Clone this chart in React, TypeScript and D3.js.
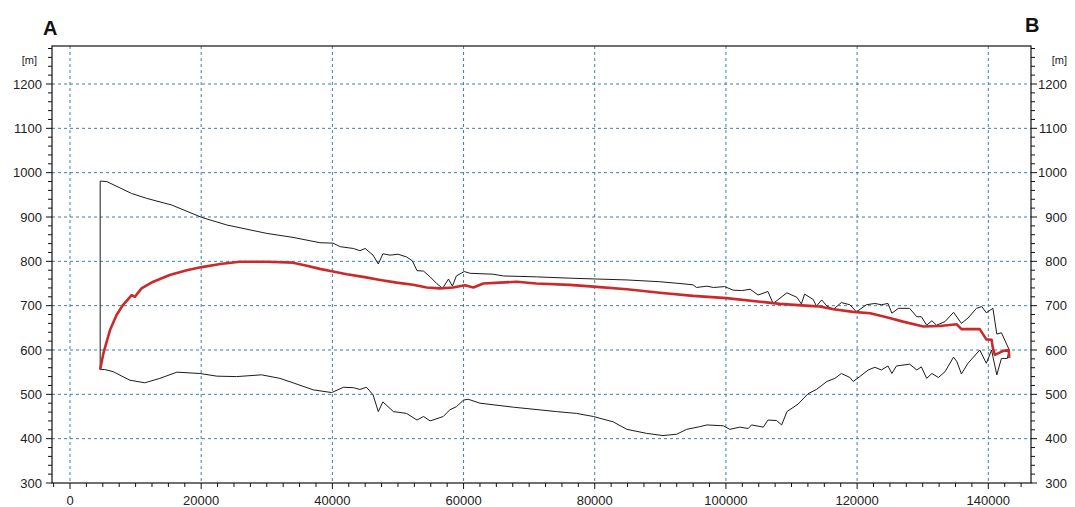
import React from "react";
import * as d3 from "d3";

const xTickValues = [0, 20000, 40000, 60000, 80000, 100000, 120000, 140000];
const yTickValues = [300, 400, 500, 600, 700, 800, 900, 1000, 1100, 1200];
const unitLabel = "[m]";
const startLabel = "A";
const endLabel = "B";

const upperProfile: [number, number][] = [
  [4600, 556], [4600, 981], [5600, 980], [9400, 953], [11700, 942], [15500, 927], [20100, 899],
  [23900, 882], [30000, 863], [34000, 854], [38100, 842], [40100, 841], [41200, 833], [43200, 829],
  [44200, 824], [45000, 829], [46200, 814], [47000, 794], [47700, 817], [48800, 814], [50000, 816],
  [51300, 810], [52200, 801], [52900, 779], [53900, 778], [54900, 765], [55900, 750], [56800, 739],
  [57700, 760], [58300, 744], [58900, 767], [60100, 777], [61000, 773], [64500, 771], [66100, 767],
  [71100, 765], [76200, 762], [84900, 758], [89900, 754], [93000, 750], [95000, 747], [95500, 741],
  [97100, 744], [98100, 741], [99800, 743], [101100, 735], [102400, 734], [103700, 737], [104900, 724],
  [106400, 732], [107200, 705], [109300, 729], [110800, 719], [111500, 704], [112000, 726], [113300, 714],
  [113800, 699], [114600, 713], [115400, 699], [116400, 692], [117600, 707], [118900, 702], [119900, 686],
  [121400, 702], [122700, 705], [123700, 702], [124700, 705], [125300, 683], [126300, 694], [128000, 694],
  [129100, 675], [129800, 675], [130600, 656], [131400, 666], [132100, 656], [133400, 664], [134700, 685],
  [135900, 660], [136900, 672], [138200, 694], [139000, 698], [139700, 684], [140700, 694], [141300, 636],
  [142000, 639], [143200, 600],
];

const lowerProfile: [number, number][] = [
  [4600, 556], [5300, 556], [6600, 551], [9100, 532], [11400, 526], [13700, 536], [16300, 550],
  [19800, 547], [22400, 541], [25400, 540], [29200, 544], [32000, 536], [34000, 526], [37100, 510],
  [39900, 504], [41700, 516], [43200, 515], [44200, 511], [45200, 516], [46200, 499], [47000, 461],
  [47700, 483], [49300, 461], [51300, 457], [52900, 442], [53900, 450], [54900, 440], [56900, 450],
  [57900, 465], [58900, 472], [60000, 487], [60700, 489], [62500, 480], [67600, 471], [74200, 461],
  [77200, 457], [79800, 450], [82800, 438], [84900, 421], [87900, 412], [90400, 407], [92500, 410],
  [94000, 421], [96000, 427], [97100, 431], [99600, 429], [100600, 421], [102100, 426], [103400, 423],
  [103900, 431], [105700, 426], [106400, 442], [107700, 441], [108500, 431], [109300, 461], [111000, 478],
  [112500, 501], [113800, 511], [115400, 529], [116600, 536], [117600, 547], [118900, 538], [119400, 529],
  [120400, 540], [121700, 555], [122700, 561], [123700, 555], [124700, 564], [125300, 547], [126000, 564],
  [128000, 568], [129100, 555], [129800, 562], [130600, 536], [131400, 547], [132400, 538], [133400, 551],
  [134700, 584], [135200, 574], [135900, 546], [136900, 570], [138700, 600], [139700, 570], [140500, 600],
  [140700, 585], [141300, 544], [142000, 581], [142900, 581], [143200, 600],
];

const lineProfile: [number, number][] = [
  [4600, 556], [5100, 593], [6100, 645], [7100, 679], [8100, 702], [9400, 724], [9900, 720],
  [10900, 739], [12700, 754], [15200, 769], [17800, 780], [20100, 787], [22900, 794], [25900, 799],
  [30000, 799], [34000, 797], [36100, 790], [38100, 783], [40100, 777], [42200, 771], [44700, 765],
  [47300, 758], [49800, 752], [52300, 747], [54400, 741], [56400, 739], [58400, 741], [60200, 746],
  [61500, 741], [63000, 750], [65500, 752], [68100, 754], [71100, 750], [76200, 747], [79800, 743],
  [84900, 737], [89900, 729], [95000, 722], [100100, 717], [105200, 709], [108200, 704], [113300, 699],
  [114300, 698], [116400, 692], [119400, 686], [122000, 683], [124500, 674], [127000, 664], [130100, 653],
  [132600, 654], [135200, 658], [135900, 647], [138700, 647], [139700, 624], [140500, 623], [140700, 604],
  [141000, 589], [142300, 598], [143100, 600], [143200, 582],
];

const W = 1075;
const H = 507;
const frame = { left: 52, top: 46, right: 1031, bottom: 483 };
const gridColor = "#3f7fa6";
const font = "Arial, 'Liberation Sans', sans-serif";

export default function App() {
  const x = d3.scaleLinear().domain([0, 140000]).range([70, 988.3]);
  const y = d3.scaleLinear().domain([300, 1200]).range([483, 84]);

  const line = d3
    .line<[number, number]>()
    .x((d) => x(d[0]))
    .y((d) => y(d[1]));

  const xMinor = d3.range(-2500, 146000, 2500).filter((v) => x(v) >= frame.left && x(v) <= frame.right);
  const yMinor = d3.range(300, 1290, 20).filter((v) => y(v) >= frame.top && y(v) <= frame.bottom);

  return (
    <svg
      width={W}
      height={H}
      style={{ position: "absolute", left: 0, top: 0, background: "#fff" }}
      fontFamily={font}
    >
      <rect x={0} y={0} width={W} height={H} fill="#fff" />
      {/* grid */}
      {xTickValues.map((v) => (
        <line
          key={"gx" + v}
          x1={x(v)}
          x2={x(v)}
          y1={frame.top}
          y2={frame.bottom}
          stroke={gridColor}
          strokeWidth={1}
          strokeDasharray="3,3"
        />
      ))}
      {yTickValues
        .filter((v) => v > 300)
        .map((v) => (
          <line
            key={"gy" + v}
            x1={frame.left}
            x2={frame.right}
            y1={y(v)}
            y2={y(v)}
            stroke={gridColor}
            strokeWidth={1}
            strokeDasharray="3,3"
          />
        ))}

      {/* profiles */}
      <path d={line(upperProfile) || ""} fill="none" stroke="#1c1c1c" strokeWidth={1} />
      <path d={line(lowerProfile) || ""} fill="none" stroke="#1c1c1c" strokeWidth={1} />
      <path
        d={line(lineProfile) || ""}
        fill="none"
        stroke="#cc2a2a"
        strokeWidth={2.6}
        strokeLinejoin="round"
      />

      {/* frame */}
      <rect
        x={frame.left}
        y={frame.top}
        width={frame.right - frame.left}
        height={frame.bottom - frame.top}
        fill="none"
        stroke="#111"
        strokeWidth={1.2}
      />

      {/* x ticks */}
      {xMinor.map((v) => (
        <line
          key={"xt" + v}
          x1={x(v)}
          x2={x(v)}
          y1={frame.bottom}
          y2={frame.bottom + (v % 20000 === 0 ? 6 : 4)}
          stroke="#111"
          strokeWidth={1}
        />
      ))}
      {xTickValues.map((v) => (
        <text key={"xl" + v} x={x(v)} y={505} fontSize={13} textAnchor="middle" fill="#222">
          {v}
        </text>
      ))}

      {/* y ticks left and right */}
      {yMinor.map((v) => (
        <g key={"yt" + v}>
          <line
            x1={frame.left - (v % 100 === 0 ? 6 : 4)}
            x2={frame.left}
            y1={y(v)}
            y2={y(v)}
            stroke="#111"
            strokeWidth={1}
          />
          <line
            x1={frame.right}
            x2={frame.right + (v % 100 === 0 ? 6 : 4)}
            y1={y(v)}
            y2={y(v)}
            stroke="#111"
            strokeWidth={1}
          />
        </g>
      ))}
      {yTickValues.map((v) => (
        <g key={"yl" + v}>
          <text x={42} y={y(v)} dy="0.35em" fontSize={13} textAnchor="end" fill="#222">
            {v}
          </text>
          <text x={1067} y={y(v)} dy="0.35em" fontSize={13} textAnchor="end" fill="#222">
            {v}
          </text>
        </g>
      ))}
      <text x={37} y={60} dy="0.35em" fontSize={11} textAnchor="end" fill="#222">
        {unitLabel}
      </text>
      <text x={1067} y={60} dy="0.35em" fontSize={11} textAnchor="end" fill="#222">
        {unitLabel}
      </text>

      <text x={43} y={35} fontSize={20} fontWeight="bold" fill="#111">
        {startLabel}
      </text>
      <text x={1025} y={32} fontSize={20} fontWeight="bold" fill="#111">
        {endLabel}
      </text>
    </svg>
  );
}
